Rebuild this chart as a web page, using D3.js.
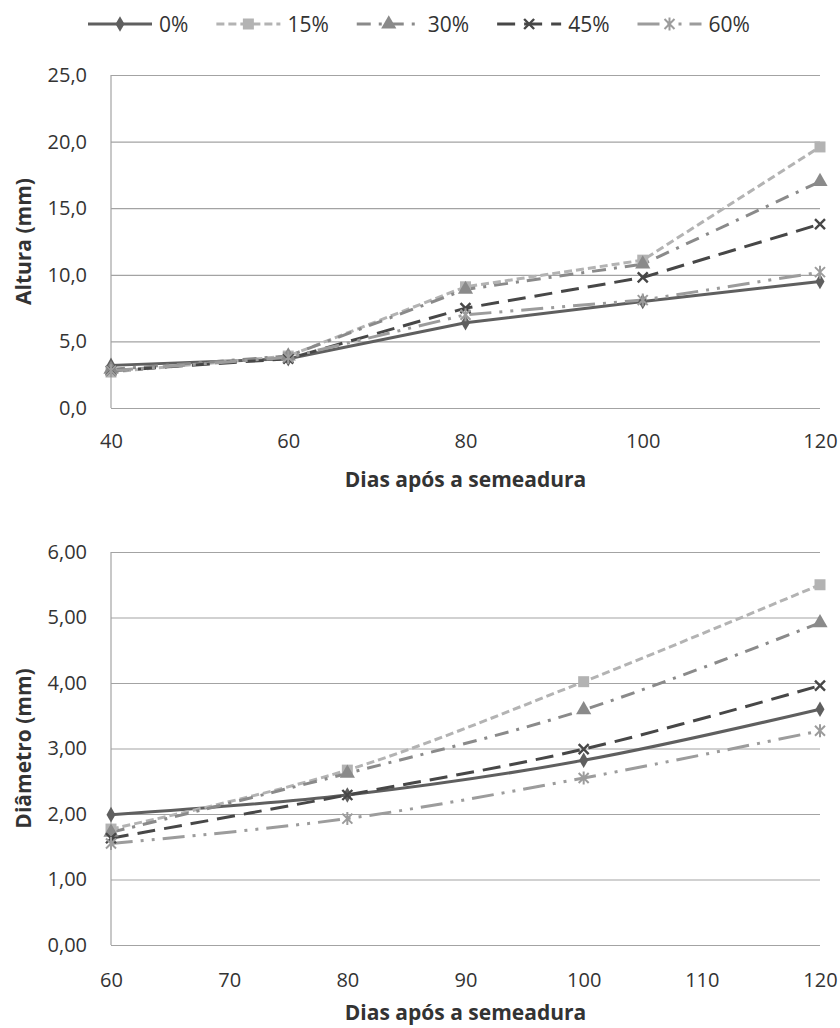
<!DOCTYPE html>
<html>
<head>
<meta charset="utf-8">
<script src="https://cdn.jsdelivr.net/npm/d3@7"></script>
<style>
  body { margin: 0; background: #fff; }
  text { font-family: "Open Sans", sans-serif; fill: #333; }
</style>
</head>
<body>
<div class="chart"></div>
<script>
// Series names (legend)
var seriesNames = ["0%", "15%", "30%", "45%", "60%"];

// Altura (mm) - top chart
var alturaDias = [40, 60, 80, 100, 120];
var altura0 = [3.2, 3.7, 6.4, 8.0, 9.5];
var altura15 = [2.7, 3.9, 9.1, 11.1, 19.6];
var altura30 = [2.9, 3.9, 8.9, 10.8, 17.0];
var altura45 = [2.8, 3.7, 7.5, 9.8, 13.8];
var altura60 = [2.8, 3.8, 7.0, 8.1, 10.2];
var alturaYTicks = [0, 5, 10, 15, 20, 25];
var alturaXTicks = [40, 60, 80, 100, 120];

// Diametro (mm) - bottom chart
var diametroDias = [60, 80, 100, 120];
var diametro0 = [1.99, 2.29, 2.82, 3.60];
var diametro15 = [1.77, 2.67, 4.02, 5.50];
var diametro30 = [1.72, 2.62, 3.59, 4.92];
var diametro45 = [1.63, 2.29, 2.99, 3.96];
var diametro60 = [1.55, 1.93, 2.55, 3.27];
var diametroYTicks = [0, 1, 2, 3, 4, 5, 6];
var diametroXTicks = [60, 70, 80, 90, 100, 110, 120];

// line styles for each series
var styles = [
  { color: "#5f5f5f", dash: null, marker: "diamond" },
  { color: "#b3b3b3", dash: "8,4", marker: "square" },
  { color: "#8a8a8a", dash: "14,8,3,8", marker: "triangle" },
  { color: "#474747", dash: "18,9", marker: "x" },
  { color: "#9c9c9c", dash: "22,8,3,8,3,8", marker: "star" }
];

var svgWidth = 840;
var svgHeight = 1028;
var left = 111;
var right = 820;

var svg = d3.select(".chart")
  .append("svg")
  .attr("width", svgWidth)
  .attr("height", svgHeight);

// draw one marker glyph into a group
function addMarker(g, type, color) {
  if (type === "x") {
    g.append("path").attr("d", "M-5,-5L5,5M-5,5L5,-5")
      .attr("stroke", color).attr("stroke-width", 2.4).attr("fill", "none");
  } else if (type === "star") {
    g.append("path").attr("d", "M-5,-5L5,5M-5,5L5,-5M0,-6.5L0,6.5")
      .attr("stroke", color).attr("stroke-width", 2).attr("fill", "none");
  } else {
    var sym = type === "diamond" ? d3.symbolDiamond
      : type === "square" ? d3.symbolSquare : d3.symbolTriangle;
    var size = type === "diamond" ? 70 : type === "square" ? 121 : 100;
    g.append("path").attr("d", d3.symbol().type(sym).size(size)())
      .attr("fill", color);
  }
}

function drawChart(opt) {
  var width = right - left;
  var height = opt.bottom - opt.top;
  var fmt = d3.format("." + opt.decimals + "f");

  var chartGroup = svg.append("g")
    .attr("transform", `translate(${left}, ${opt.top})`);

  var xScale = d3.scaleLinear()
    .domain(d3.extent(opt.xTicks))
    .range([0, width]);

  var yScale = d3.scaleLinear()
    .domain(d3.extent(opt.yTicks))
    .range([height, 0]);

  // gridlines + y labels
  var leftAxis = d3.axisLeft(yScale)
    .tickValues(opt.yTicks)
    .tickSize(-width)
    .tickPadding(24)
    .tickFormat(d => fmt(d).replace(".", ","));

  var yAxisG = chartGroup.append("g").call(leftAxis);
  yAxisG.select(".domain").remove();
  yAxisG.selectAll("line").attr("stroke", "#a3a3a3").attr("stroke-width", 1.2);
  yAxisG.selectAll("text").style("font-size", "20px").attr("fill", "#333");

  // vertical axis line
  chartGroup.append("line")
    .attr("x1", 0).attr("x2", 0)
    .attr("y1", 0).attr("y2", height)
    .attr("stroke", "#a3a3a3").attr("stroke-width", 1.2);

  var bottomAxis = d3.axisBottom(xScale)
    .tickValues(opt.xTicks)
    .tickSize(0)
    .tickPadding(opt.tickOffset - 14);

  var xAxisG = chartGroup.append("g")
    .attr("transform", `translate(0, ${height})`)
    .call(bottomAxis);
  xAxisG.select(".domain").remove();
  xAxisG.selectAll("text").style("font-size", "20px").attr("fill", "#333");

  var line = d3.line()
    .x((d, i) => xScale(opt.xs[i]))
    .y(d => yScale(d))
    .curve(opt.curve);

  opt.series.forEach(function (vals, s) {
    var st = styles[s];
    chartGroup.append("path")
      .datum(vals)
      .attr("d", line)
      .attr("fill", "none")
      .attr("stroke", st.color)
      .attr("stroke-width", 3)
      .attr("stroke-dasharray", st.dash);
  });

  opt.series.forEach(function (vals, s) {
    var st = styles[s];
    vals.forEach(function (v, i) {
      var mg = chartGroup.append("g")
        .attr("transform", `translate(${xScale(opt.xs[i])}, ${yScale(v)})`);
      addMarker(mg, st.marker, st.color);
    });
  });

  // axis titles
  chartGroup.append("text")
    .attr("transform", `translate(${31 - left}, ${height / 2}) rotate(-90)`)
    .attr("text-anchor", "middle")
    .style("font-size", "21px")
    .style("font-weight", "bold")
    .text(opt.yLabel);

  chartGroup.append("text")
    .attr("x", width / 2)
    .attr("y", height + opt.titleOffset)
    .attr("text-anchor", "middle")
    .style("font-size", "21px")
    .style("font-weight", "bold")
    .text("Dias após a semeadura");
}

drawChart({
  top: 75, bottom: 408,
  xs: alturaDias,
  series: [altura0, altura15, altura30, altura45, altura60],
  yTicks: alturaYTicks, xTicks: alturaXTicks,
  decimals: 1,
  yLabel: "Altura (mm)",
  curve: d3.curveLinear,
  tickOffset: 40, titleOffset: 79
});

drawChart({
  top: 552, bottom: 945,
  xs: diametroDias,
  series: [diametro0, diametro15, diametro30, diametro45, diametro60],
  yTicks: diametroYTicks, xTicks: diametroXTicks,
  decimals: 2,
  yLabel: "Diâmetro (mm)",
  curve: d3.curveCardinal.tension(0),
  tickOffset: 42, titleOffset: 75
});

// Legend
var legend = svg.append("g").attr("transform", "translate(0, 24)");
var lx = 88;
seriesNames.forEach(function (name, s) {
  var st = styles[s];
  legend.append("line")
    .attr("x1", lx).attr("x2", lx + 64)
    .attr("y1", 0).attr("y2", 0)
    .attr("stroke", st.color)
    .attr("stroke-width", 3.2)
    .attr("stroke-dasharray", st.dash);
  addMarker(legend.append("g").attr("transform", `translate(${lx + 32}, 0)`), st.marker, st.color);
  var t = legend.append("text")
    .attr("x", lx + 71)
    .attr("y", 8)
    .style("font-size", "21px")
    .text(name);
  lx = lx + 71 + t.node().getComputedTextLength() + 28;
});
</script>
</body>
</html>
